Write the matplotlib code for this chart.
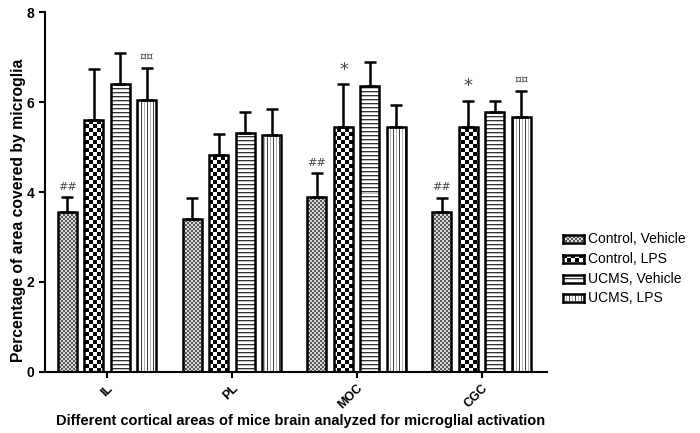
import numpy as np
import matplotlib
matplotlib.use("Agg")
import matplotlib.pyplot as plt

plt.rcParams['font.family'] = ['Liberation Sans', 'DejaVu Sans']

regions = ["IL", "PL", "MOC", "CGC"]
series = ["Control, Vehicle", "Control, LPS", "UCMS, Vehicle", "UCMS, LPS"]
means = {
    "Control, Vehicle": [3.55, 3.40, 3.88, 3.55],
    "Control, LPS":     [5.60, 4.82, 5.44, 5.44],
    "UCMS, Vehicle":    [6.40, 5.31, 6.36, 5.78],
    "UCMS, LPS":        [6.04, 5.27, 5.44, 5.67],
}
errs = {
    "Control, Vehicle": [0.33, 0.47, 0.54, 0.32],
    "Control, LPS":     [1.13, 0.47, 0.96, 0.59],
    "UCMS, Vehicle":    [0.70, 0.47, 0.54, 0.24],
    "UCMS, LPS":        [0.72, 0.57, 0.49, 0.58],
}
# significance marks: (series, region index, text)
marks = [
    ("Control, Vehicle", 0, "##"), ("UCMS, LPS", 0, "\u00a4\u00a4"),
    ("Control, Vehicle", 2, "##"), ("Control, LPS", 2, "*"),
    ("Control, Vehicle", 3, "##"), ("Control, LPS", 3, "*"), ("UCMS, LPS", 3, "\u00a4\u00a4"),
]
ylabel = "Percentage of area covered by microglia"
xlabel = "Different cortical areas of mice brain analyzed for microglial activation"

fig = plt.figure(figsize=(7.0, 4.33), dpi=100)
ax = fig.add_axes([0.064, 0.141, 0.717, 0.831])
ax.set_xlim(-0.496, 3.52)
ax.set_ylim(0, 8)

width = 0.152
offsets = [-0.318, -0.106, 0.106, 0.318]
x = np.arange(len(regions))

fig.canvas.draw()
bb = ax.get_window_extent()
W, H = int(round(bb.width)), int(round(bb.height))
yy, xx = np.mgrid[0:H, 0:W]

def pattern(kind):
    img = np.ones((H, W, 3))
    if kind == 0:
        m = ((xx // 2 + yy // 2) % 2 == 0)
        img[:] = 0.85
        img[m] = 0.35
    elif kind == 1:
        m = ((xx // 4 + yy // 4) % 2 == 0)
        img[:] = 1.0
        img[m] = 0.0
    elif kind == 2:
        img[:] = 1.0
        img[(yy % 4 == 0)] = 0.2
        img[(yy % 4 == 1)] = 0.75
    else:
        img[:] = 1.0
        img[(xx % 6 == 0)] = 0.25
        img[(xx % 6 == 3)] = 0.7
    return img

xl, yl = ax.get_xlim(), ax.get_ylim()
for i, s in enumerate(series):
    pos = x + offsets[i]
    bars = ax.bar(pos, means[s], width, facecolor='none', edgecolor='black',
                  linewidth=1.8, zorder=3)
    ax.errorbar(pos, means[s], yerr=[np.zeros(4), errs[s]], fmt='none',
                ecolor='black', elinewidth=1.8, capsize=4, capthick=1.8, zorder=2)
    img = pattern(i)
    for b in bars:
        im = ax.imshow(img, extent=[xl[0], xl[1], yl[0], yl[1]], aspect='auto',
                       interpolation='nearest', zorder=1, origin='upper')
        im.set_clip_path(b)
ax.set_xlim(xl)
ax.set_ylim(yl)

for s, r, t in marks:
    i = series.index(s)
    top = means[s][r] + errs[s][r]
    fs = 13 if t == "*" else 8
    ax.text(x[r] + offsets[i], top + 0.12, t, ha='center', va='bottom',
            fontsize=fs, color='#444444', zorder=4, family=['DejaVu Sans'])

ax.spines['top'].set_visible(False)
ax.spines['right'].set_visible(False)
for sp in ['left', 'bottom']:
    ax.spines[sp].set_linewidth(1.5)
ax.set_yticks([0, 2, 4, 6, 8])
ax.set_xticks(x)
ax.set_xticklabels(regions, rotation=45, ha='right', rotation_mode='anchor',
                   fontsize=9, fontweight='bold')
ax.tick_params(axis='y', labelsize=10, width=1.5, length=4)
ax.tick_params(axis='x', width=1.5, length=4)
for lab in ax.get_yticklabels():
    lab.set_fontweight('bold')
ax.set_ylabel(ylabel, fontsize=11.3, fontweight='bold')
ax.yaxis.set_label_coords(-0.038, 0.45)
ax.set_xlabel(xlabel, fontsize=10.5, fontweight='bold')
ax.xaxis.set_label_coords(0.51, -0.117)

# legend drawn manually with pattern swatches
ys = [239, 259, 279, 298]
for i, s in enumerate(series):
    yc = 1 - ys[i] / 433
    sw = fig.add_axes([563 / 700, yc - 3.5 / 433, 21 / 700, 8 / 433])
    sw.set_xlim(0, 1); sw.set_ylim(0, 1)
    sw.imshow(pattern(i)[:8, :21], extent=[0, 1, 0, 1], aspect='auto',
              interpolation='nearest')
    for sp in sw.spines.values():
        sp.set_linewidth(1.8)
    sw.set_xticks([]); sw.set_yticks([])
    fig.text(588 / 700, yc, s, fontsize=10, va='center', ha='left')

fig.savefig("out.png", dpi=100)
